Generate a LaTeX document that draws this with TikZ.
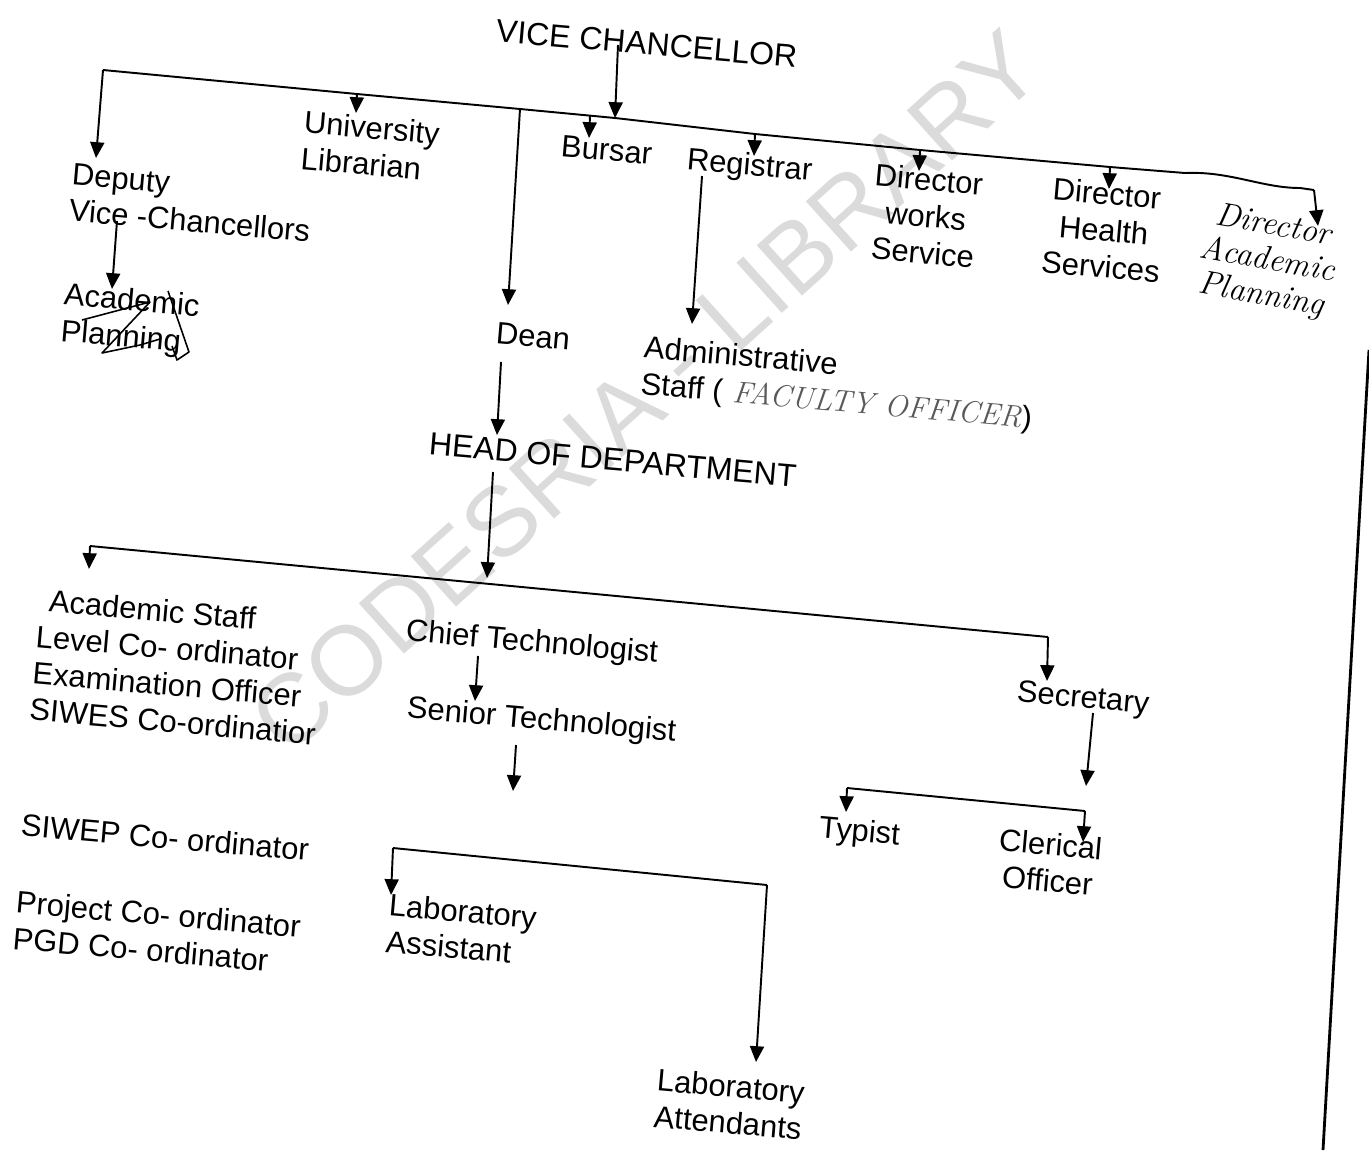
\documentclass[tikz,border=0pt]{standalone}
\usepackage{fontspec}
\setsansfont{Liberation Sans}
\renewcommand{\familydefault}{\sfdefault}
\usetikzlibrary{arrows.meta}
\tikzset{
  lbl/.style={anchor=north west, inner sep=0pt, rotate=-5, align=left, font=\fontsize{17.6}{20.8}\selectfont},
  big/.style={lbl, font=\fontsize{18.2}{21}\selectfont},
  hand/.style={inner sep=0pt, rotate=-10, align=center, font=\rmfamily\itshape\fontsize{19}{20}\selectfont},
  conn/.style={line width=1.1pt},
  arr/.style={conn, -{Triangle[width=8pt,length=9pt]}},
  wm/.style={text=black!14, font=\fontsize{56}{56}\selectfont, rotate=42, inner sep=0pt},
  scribble/.style={line width=0.9pt, line join=round}
}
\begin{document}
\begin{tikzpicture}[x=0.02cm,y=-0.02cm]
\useasboundingbox (0,0) rectangle (1369,1150);
% watermark
\node[wm] (wmark) at (645,392) {CODESRIA - LIBRARY};

% labels
\node[big] (vc) at (497,19) {VICE CHANCELLOR};
\node[lbl] (ul) at (305,110) {University\\Librarian};
\node[lbl] (bur) at (562,135) {Bursar};
\node[lbl] (reg) at (688,147) {Registrar};
\node[lbl, anchor=north, align=center] (dws) at (930,168) {Director\\works\\Service};
\node[lbl, anchor=north, align=center] (dhs) at (1108,182) {Director\\Health\\Services};
\node[hand, anchor=north] (dap) at (1276,212) {Director\\Academic\\Planning};
\node[lbl] (dvc) at (73,163) {Deputy\\Vice -Chancellors};
\node[lbl] (ap) at (65,282) {Academic\\Planning};
\node[lbl] (dean) at (497,322) {Dean};
\node[lbl] (adm) at (645,335) {Administrative\\Staff (\hspace{0.2cm}{\rmfamily\itshape\color{black!65}\fontsize{17.5}{20}\selectfont FACULTY OFFICER})};
\node[big] (hod) at (430,432) {HEAD OF DEPARTMENT};
\node[lbl] (acs) at (40,588) {\hspace*{0.2cm}Academic Staff\\Level Co- ordinator\\Examination Officer\\SIWES Co-ordinatior};
\node[lbl] (siwep) at (22,813) {SIWEP Co- ordinator};
\node[lbl] (proj) at (17,890) {Project Co- ordinator\\PGD Co- ordinator};
\node[lbl] (chief) at (407,618) {Chief Technologist};
\node[lbl] (senior) at (408,695) {Senior Technologist};
\node[lbl] (sec) at (1018,680) {Secretary};
\node[lbl] (typ) at (820,815) {Typist};
\node[lbl, align=center] (cler) at (1000,828) {Clerical\\Officer};
\node[lbl] (laba) at (390,893) {Laboratory\\Assistant};
\node[lbl] (labt) at (658,1068) {Laboratory\\Attendants};

% scribble over Academic Planning
\draw[scribble] (82,320) -- (150,302) -- (102,353) -- (140,345) -- (160,339);
\draw[scribble] (168,291) -- (189,352) -- (177,360) -- (172,346);

% top bus
\coordinate (b1a) at (103,70);
\coordinate (b1ul) at (357,94);
\coordinate (b1dean) at (520,109);
\coordinate (b1bur) at (590,116);
\coordinate (b1vc) at (615,118);
\coordinate (b1reg) at (755,134);
\coordinate (b1dws) at (920,150);
\coordinate (b1dhs) at (1110,167);
\coordinate (b1e) at (1185,173);
\coordinate (b1h) at (1314,190);
\coordinate (vcs) at (618,45);
\coordinate (tdvc) at (96,158);
\coordinate (tul) at (356,113);
\coordinate (tdean) at (508,305);
\coordinate (tbur) at (589,138);
\coordinate (treg) at (754,156);
\coordinate (tdws) at (919,171);
\coordinate (tdhs) at (1109,189);
\coordinate (tdap) at (1318,226);

\draw[conn] (b1a) -- (b1ul) -- (b1dean) -- (b1vc) -- (b1reg) -- (b1dws) -- (b1dhs) -- (b1e);
\draw[conn] (b1e) .. controls (1230,171) and (1262,188) .. (1300,188) -- (b1h);
\draw[arr] (b1h) -- (tdap);
\draw[arr] (vcs) -- (b1vc);
\draw[arr] (b1a) -- (tdvc);
\draw[arr] (b1ul) -- (tul);
\draw[arr] (b1dean) -- (tdean);
\draw[arr] (b1bur) -- (tbur);
\draw[arr] (b1reg) -- (treg);
\draw[arr] (b1dws) -- (tdws);
\draw[arr] (b1dhs) -- (tdhs);

% second level
\coordinate (rs) at (702,176);
\coordinate (tadm) at (692,324);
\coordinate (dvcs) at (117,221);
\coordinate (tap) at (112,289);
\coordinate (deans) at (501,362);
\coordinate (thod) at (497,435);
\draw[arr] (rs) -- (tadm);
\draw[arr] (dvcs) -- (tap);
\draw[arr] (deans) -- (thod);

% department bus
\coordinate (hods) at (493,472);
\coordinate (b2h) at (487,578);
\coordinate (b2a) at (90,546);
\coordinate (b2b) at (1048,637);
\coordinate (tacs) at (89,569);
\coordinate (tsec) at (1047,681);
\draw[arr] (hods) -- (b2h);
\draw[conn] (b2a) -- (b2b);
\draw[arr] (b2a) -- (tacs);
\draw[arr] (b2b) -- (tsec);

% technologists
\coordinate (cs) at (478,656);
\coordinate (tsen) at (475,701);
\coordinate (ss) at (516,745);
\coordinate (ts) at (513,791);
\draw[arr] (cs) -- (tsen);
\draw[arr] (ss) -- (ts);
\coordinate (b3a) at (393,848);
\coordinate (b3b) at (767,885);
\coordinate (tlaba) at (391,895);
\coordinate (tlabt) at (756,1062);
\draw[conn] (b3a) -- (b3b);
\draw[arr] (b3a) -- (tlaba);
\draw[arr] (b3b) -- (tlabt);

% secretary
\coordinate (secs) at (1093,713);
\coordinate (tsecb) at (1086,786);
\draw[arr] (secs) -- (tsecb);
\coordinate (b4a) at (847,788);
\coordinate (b4b) at (1085,811);
\coordinate (ttyp) at (846,812);
\coordinate (tcler) at (1083,842);
\draw[conn] (b4a) -- (b4b);
\draw[arr] (b4a) -- (ttyp);
\draw[arr] (b4b) -- (tcler);

% page edge
\coordinate (rb1) at (1369,350);
\coordinate (rb2) at (1323,1150);
\draw[line width=1.6pt] (rb1) -- (rb2);
\end{tikzpicture}
\end{document}
